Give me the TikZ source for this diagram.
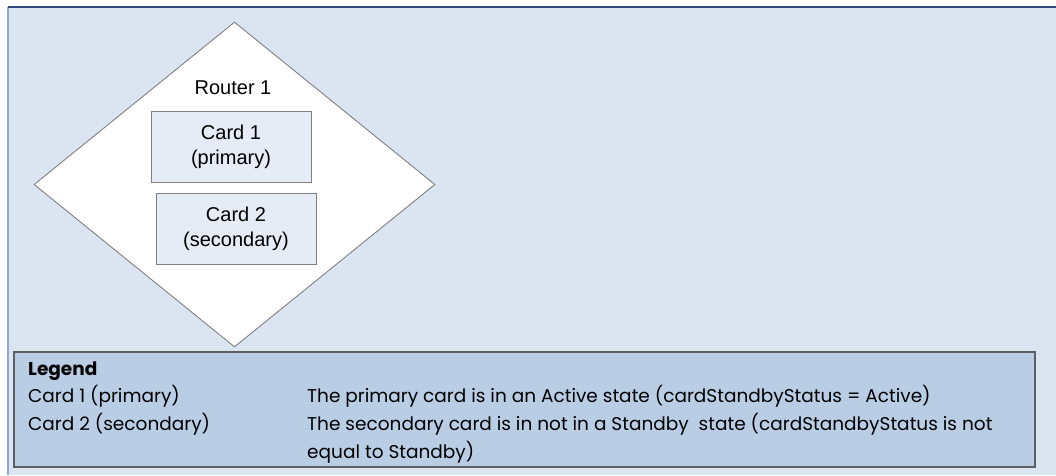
\documentclass[tikz,border=0pt]{standalone}
\usepackage{fontspec}
\setmainfont{Liberation Sans}
\newfontfamily\legendfont{Poppins}
\usetikzlibrary{shapes.geometric}
\definecolor{panelbg}{HTML}{DBE5F1}
\definecolor{cardbg}{HTML}{E5ECF6}
\definecolor{legendbg}{HTML}{B9CDE5}
\definecolor{framedark}{HTML}{2B4A78}
\definecolor{frameleft}{HTML}{8EA9CF}
\definecolor{edgegray}{HTML}{7F7F7F}
\definecolor{legendedge}{HTML}{5F5F5F}
\tikzset{
  router/.style={shape=diamond, draw=edgegray, fill=white, line width=0.9pt,
    minimum width=401pt, minimum height=325pt, inner sep=0pt},
  card/.style={draw=edgegray, fill=cardbg, line width=0.9pt, inner sep=0pt,
    minimum width=160pt, minimum height=71pt, align=center,
    font=\fontsize{20}{25}\selectfont},
  legendtext/.style={anchor=base west, inner sep=0pt, align=left,
    font=\legendfont\fontsize{18.5}{27.5}\selectfont},
  legendbox/.style={draw=legendedge, fill=legendbg, line width=1.2pt,
    minimum width=1021pt, minimum height=115pt, inner sep=0pt}
}
\begin{document}
\begin{tikzpicture}[x=1pt,y=-1pt]
    \useasboundingbox (0,0) rectangle (1056,475);
    \fill[panelbg] (8,7) rectangle (1056,475);
    \draw[frameleft, line width=1.2pt] (8,475) -- (8,7);
    \draw[framedark, line width=1.5pt] (8,7) -- (1056,7);
    %
    \node[router] (router1) at (234.5,184.5) {};
    \node[font=\fontsize{20}{25}\selectfont] (routerlabel) at (233,88) {Router 1};
    \node[card] (card1) at (231,146.5) {Card 1\\(primary)};
    \node[card] (card2) at (236,228.5) {Card 2\\(secondary)};
    %
    \node[legendbox] (legend) at (524.5,409.5) {};
    \node[legendtext, font=\legendfont\bfseries\fontsize{18.5}{27.5}\selectfont] (legendtitle) at (28,375) {Legend};
    \node[legendtext] (key1) at (28,402.5) {Card 1 (primary)};
    \node[legendtext] (key2) at (28,430.5) {Card 2 (secondary)};
    \node[legendtext] (desc1) at (307,402.5) {The primary card is in an Active state (cardStandbyStatus = Active)};
    \node[legendtext] (desc2) at (307,458) {The secondary card is in not in a Standby\ \ state (cardStandbyStatus is not\\equal to Standby)};
\end{tikzpicture}
\end{document}
